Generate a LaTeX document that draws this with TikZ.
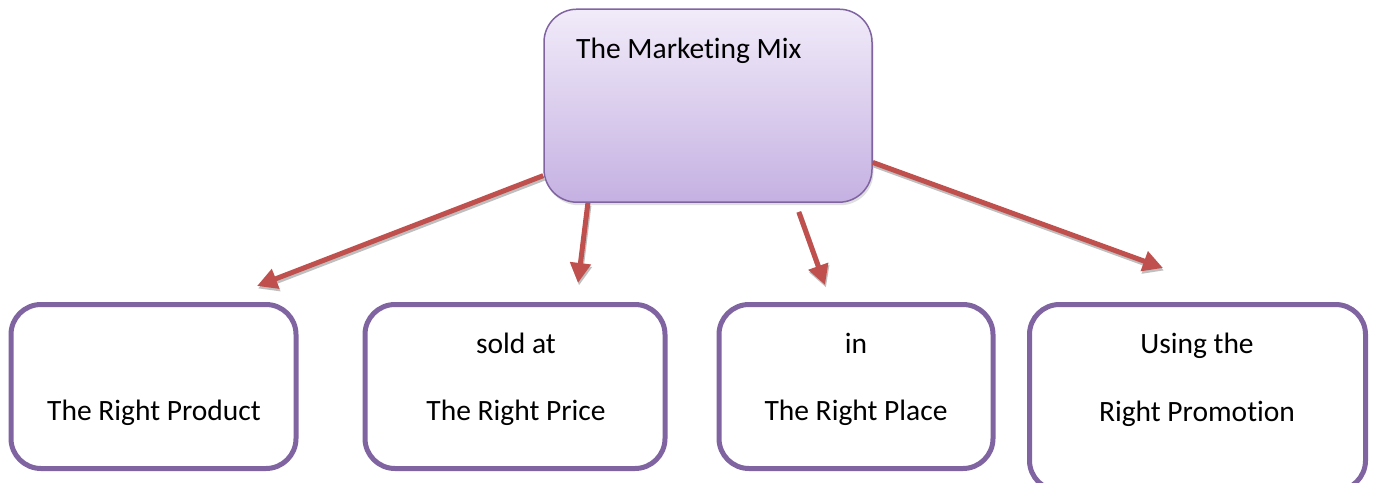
\documentclass[tikz,border=0pt]{standalone}
\usepackage{fontspec}
\setmainfont{Carlito}[Ligatures=NoCommon]
\usetikzlibrary{arrows.meta,shadows}
\definecolor{boxline}{HTML}{8064A2}
\definecolor{arrowred}{HTML}{C0504D}
\definecolor{gtop}{HTML}{F1EBF9}
\definecolor{gbot}{HTML}{C5B1E2}
\begin{document}
\begin{tikzpicture}[x=1pt,y=-1pt,
  mainbox/.style={draw=boxline, line width=1.5pt, rounded corners=33pt, top color=gtop, bottom color=gbot,
    minimum width=328pt, minimum height=193pt, inner sep=0pt,
    drop shadow={opacity=0.25, shadow xshift=1.5pt, shadow yshift=-3pt}},
  sbox/.style={draw=boxline, line width=5pt, rounded corners=30pt, fill=white, inner sep=0pt},
  lbl/.style={font=\fontsize{29.5}{35}\selectfont, inner sep=0pt, anchor=base},
  arr/.style={draw=arrowred, line width=5pt, -{Triangle[length=20pt,width=20pt]},
    preaction={draw=black!25, line width=5pt, transform canvas={xshift=1pt,yshift=-2.5pt}, -{Triangle[length=20pt,width=20pt]}}}]
\useasboundingbox (0,0) rectangle (1373,482);
\fill[white] (0,0) rectangle (1373,482);

\node[mainbox] (mix) at (708,105.7) {};
\node[lbl, anchor=base west] (mixt) at (576,58) {The Marketing Mix};

\node[sbox, minimum width=285pt, minimum height=164pt] (prod) at (153.5,386.5) {};
\node[sbox, minimum width=300pt, minimum height=164pt] (price) at (515,386.5) {};
\node[sbox, minimum width=274pt, minimum height=164pt] (place) at (856,386.5) {};
\node[sbox, minimum width=336pt, minimum height=186pt] (promo) at (1197.5,397.5) {};

\node[lbl] (prodt) at (154,420) {The Right Product};
\node[lbl] (pricea) at (516,353) {sold at};
\node[lbl] (priceb) at (516,420) {The Right Price};
\node[lbl] (placea) at (856,353) {in};
\node[lbl] (placeb) at (856,420) {The Right Place};
\node[lbl] (promoa) at (1197,353) {Using the};
\node[lbl] (promob) at (1197,421) {Right Promotion};

\coordinate (e1) at (257,286);
\coordinate (e2) at (578,283);
\coordinate (e3) at (825,285);
\coordinate (e4) at (1163,268);

\draw[arr] (mix.203.5) -- (e1);
\draw[arr] (mix.219.4) -- (e2);
\draw[arr, shorten <=9.5pt] (mix.312.8) -- (e3);
\draw[arr] (mix.341.8) -- (e4);
\end{tikzpicture}
\end{document}
